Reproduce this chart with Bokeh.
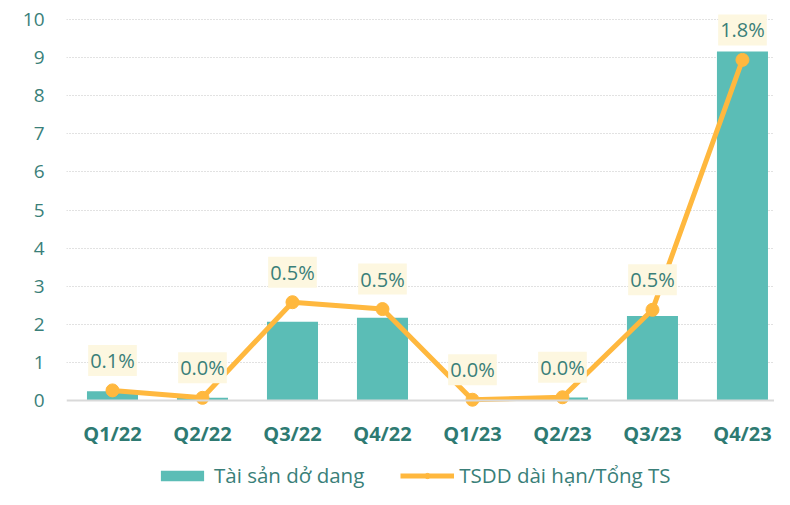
from bokeh.plotting import figure
from bokeh.models import (ColumnDataSource, Range1d, FixedTicker, Span, Legend, LegendItem)
from bokeh.core.properties import value
from bokeh.embed import file_html
from bokeh.resources import INLINE

categories = ["Q1/22", "Q2/22", "Q3/22", "Q4/22", "Q1/23", "Q2/23", "Q3/23", "Q4/23"]
tai_san_do_dang = [0.24, 0.07, 2.07, 2.17, 0.0, 0.08, 2.22, 9.16]
tsdd_ratio_pct = [0.053, 0.014, 0.516, 0.480, 0.004, 0.017, 0.476, 1.788]
ratio_labels = ["0.1%", "0.0%", "0.5%", "0.5%", "0.0%", "0.0%", "0.5%", "1.8%"]
y_ticks = [0, 1, 2, 3, 4, 5, 6, 7, 8, 9, 10]

TEAL = "#5BBDB6"
ORANGE = "#FFB83E"
TXT = "#3A7F79"
TXT_BOLD = "#2E7A72"
FONT = "Open Sans"

xs = list(range(len(categories)))
zeros = [0] * len(categories)
src = ColumnDataSource(dict(x=xs, bar=tai_san_do_dang, pct=tsdd_ratio_pct,
                            lab=ratio_labels, cat=categories, base=zeros))

W, H = 774, 489
p = figure(width=W, height=H, output_backend="svg", toolbar_location=None,
           x_range=Range1d(-0.511, 7.356), y_range=Range1d(-2.336, 10.42),
           min_border_left=66, min_border_right=0, min_border_top=3, min_border_bottom=0)
p.outline_line_color = None
p.extra_y_ranges = {"pct": Range1d(-2.336 / 5, 10.42 / 5)}

bars = p.vbar(x="x", top="bar", bottom=0, width=0.567, source=src,
              fill_color=TEAL, line_color=None)
p.add_layout(Span(location=0, dimension="width", line_color="#D9D9D9", line_width=2))
ln = p.line(x="x", y="pct", source=src, y_range_name="pct", line_color=ORANGE, line_width=5)
pts = p.scatter(x="x", y="pct", source=src, y_range_name="pct", size=13,
                fill_color=ORANGE, line_color=ORANGE)

# data labels
p.text(x="x", y="pct", text="lab", source=src, y_range_name="pct",
       y_offset=-30, text_align="center", text_baseline="middle",
       text_font=value(FONT), text_font_size="20px", text_color=TXT,
       background_fill_color="#FDF7E0", padding=2)

# category labels (x axis)
p.text(x="x", y="base", text="cat", source=src, y_offset=33,
       text_align="center", text_baseline="middle",
       text_font=value(FONT), text_font_size="20px", text_font_style="bold",
       text_color=TXT_BOLD)

p.xaxis.visible = False
p.xgrid.grid_line_color = None

p.yaxis.ticker = FixedTicker(ticks=y_ticks)
p.yaxis.axis_line_color = None
p.yaxis.major_tick_line_color = None
p.yaxis.minor_tick_line_color = None
p.yaxis.major_label_standoff = 16
p.yaxis.major_label_text_font = FONT
p.yaxis.major_label_text_font_size = "19px"
p.yaxis.major_label_text_color = TXT

p.ygrid.ticker = FixedTicker(ticks=y_ticks[1:])
p.ygrid.grid_line_color = "#C4C4C4"
p.ygrid.grid_line_dash = "1 2"
p.ygrid.grid_line_width = 1.2

legend = Legend(items=[LegendItem(label="Tài sản dở dang", renderers=[bars]),
                       LegendItem(label="TSDD dài hạn/Tổng TS", renderers=[ln, pts])],
                orientation="horizontal", location=(89, 0),
                glyph_width=54, glyph_height=13, label_standoff=5, spacing=36,
                padding=0, margin=0, border_line_color=None, background_fill_alpha=0,
                label_text_font=FONT, label_text_font_size="20.5px", label_text_color=TXT,
                label_height=20)
p.add_layout(legend)

open("out.html", "w").write(file_html(p, INLINE))
